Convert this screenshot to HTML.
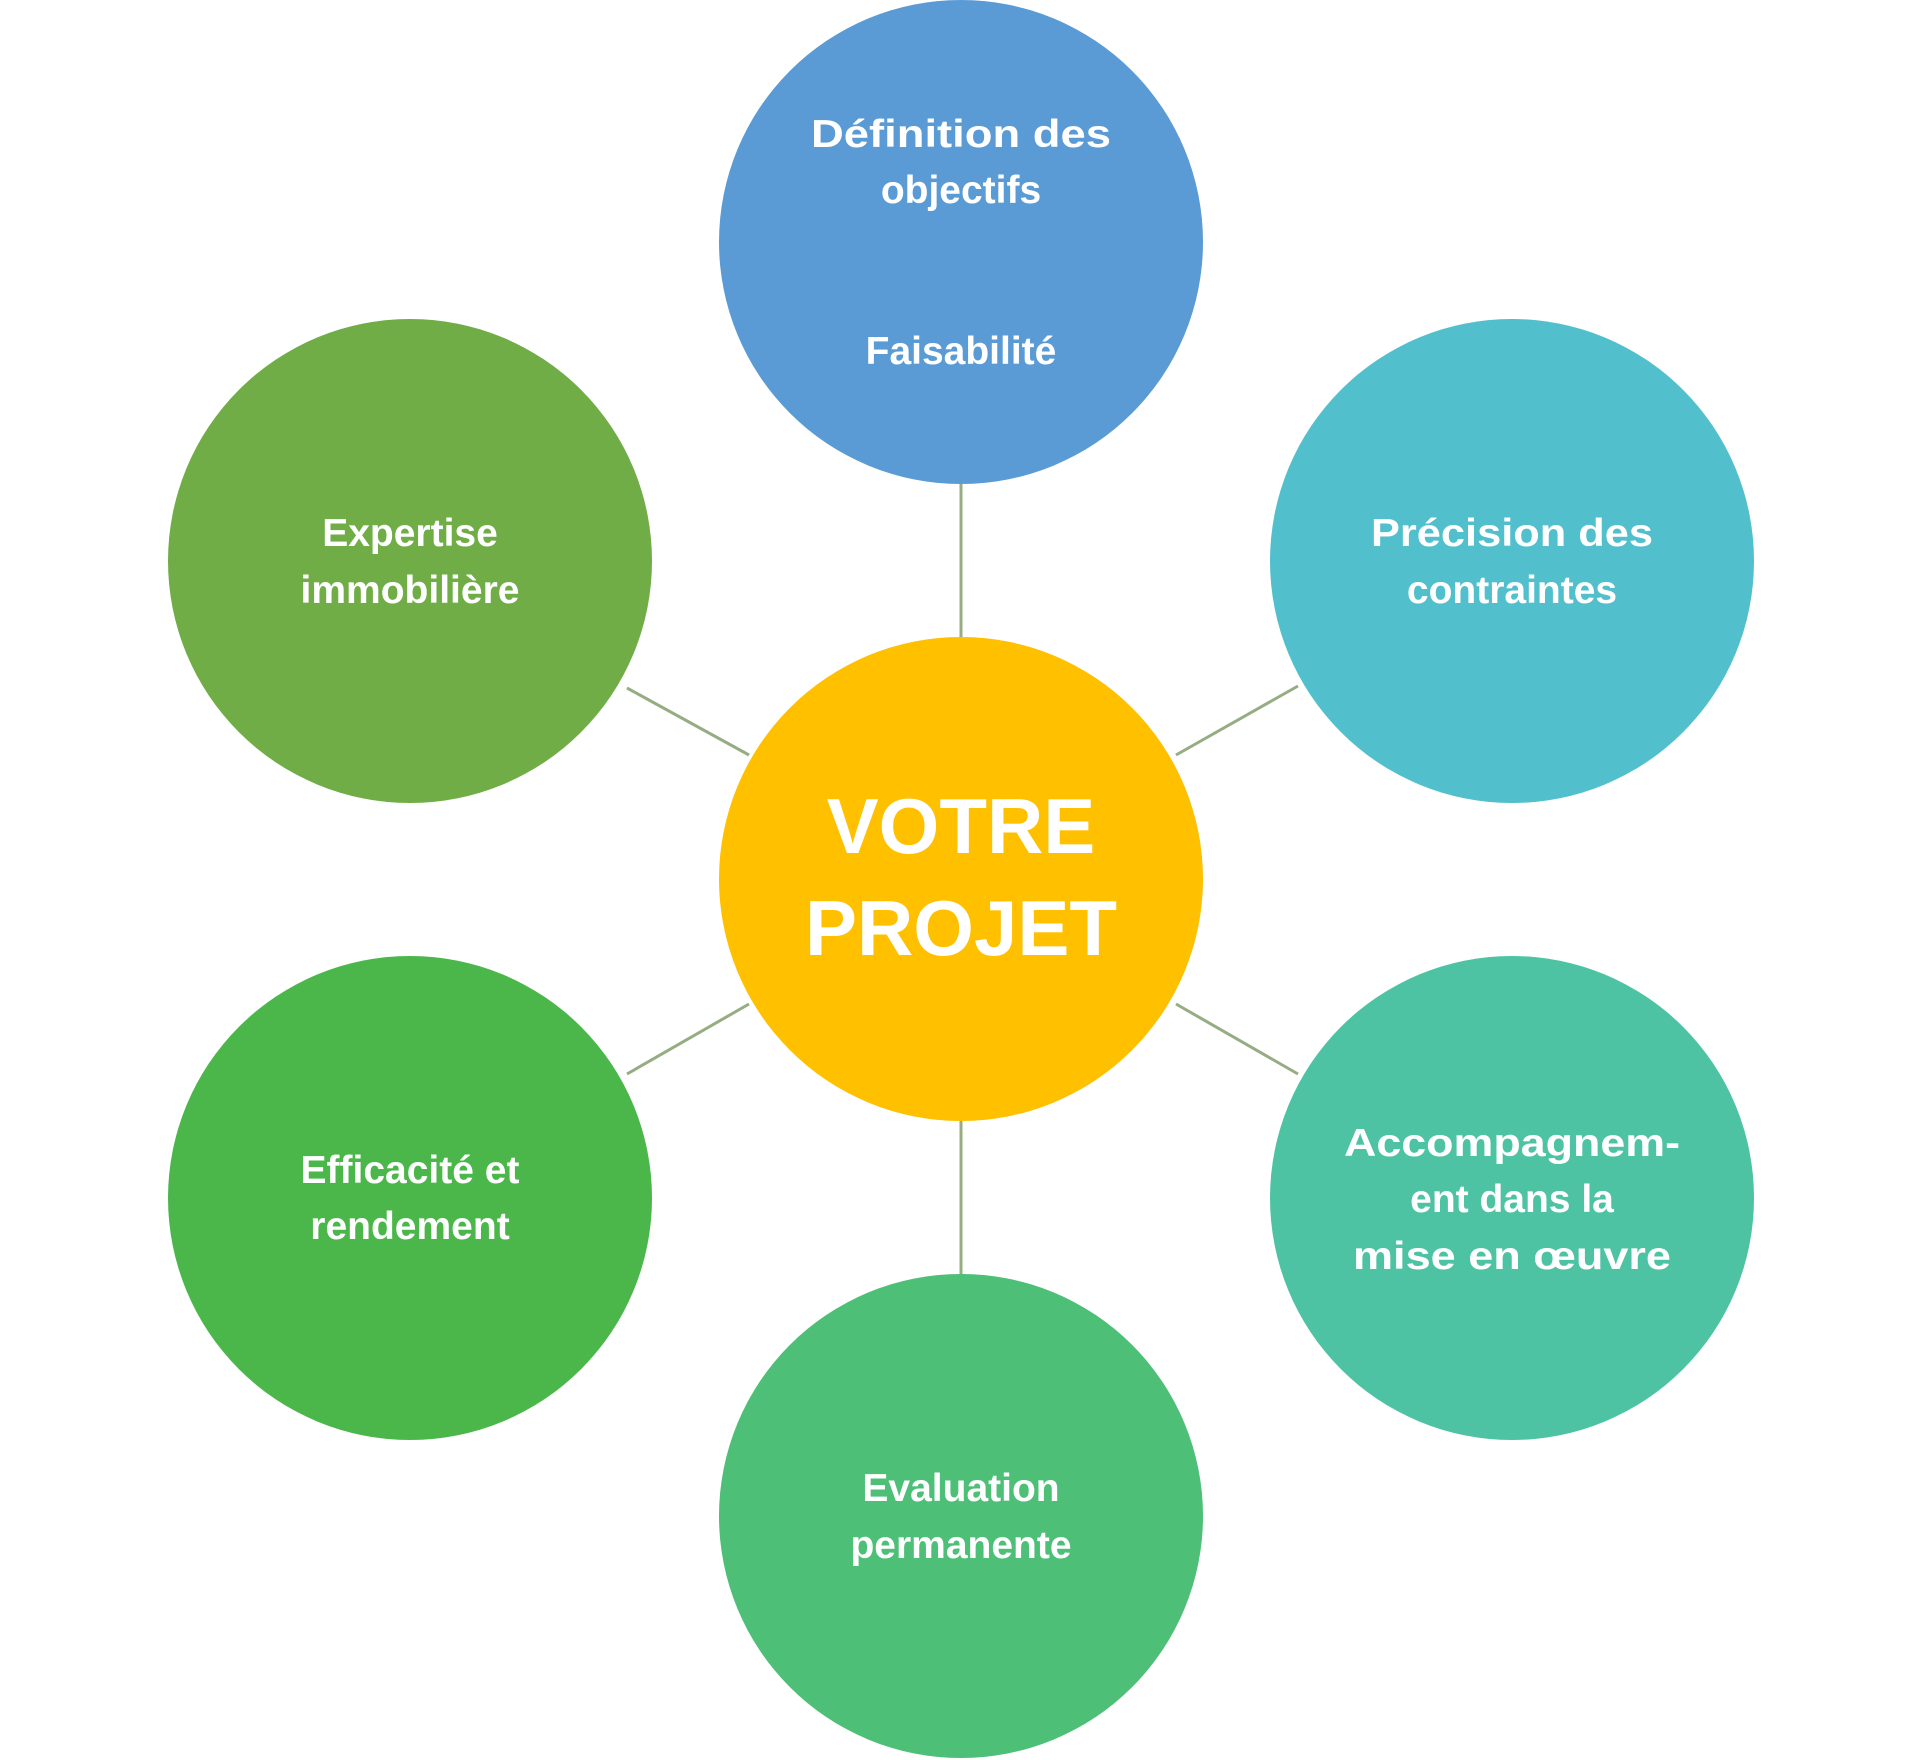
<!DOCTYPE html>
<html><head><meta charset="utf-8"><style>
html,body{margin:0;padding:0;background:#fff;}
svg{display:block;}
text{font-family:"Liberation Sans",sans-serif;font-weight:bold;fill:#fff;text-anchor:middle;}
.s{font-size:39px;}
.b{font-size:78px;}
</style></head><body>
<svg width="1920" height="1760" viewBox="0 0 1920 1760">
<g stroke="#96ad84" stroke-width="3">
<line x1="961" y1="480" x2="961" y2="640"/>
<line x1="961" y1="1118" x2="961" y2="1278"/>
<line x1="627" y1="688" x2="749" y2="755"/>
<line x1="1176" y1="755" x2="1298" y2="686"/>
<line x1="627" y1="1074" x2="749" y2="1004"/>
<line x1="1176" y1="1004" x2="1298" y2="1074"/>
</g>
<circle cx="961" cy="242" r="242" fill="#5b9bd5"/>
<circle cx="1512" cy="561" r="242" fill="#52bfcd"/>
<circle cx="410" cy="561" r="242" fill="#70ad47"/>
<circle cx="410" cy="1198" r="242" fill="#4bb74a"/>
<circle cx="1512" cy="1198" r="242" fill="#4ec3a4"/>
<circle cx="961" cy="1516" r="242" fill="#4dbf77"/>
<circle cx="961" cy="879" r="242" fill="#ffc000"/>
<text class="s" x="961" y="147" textLength="300" lengthAdjust="spacingAndGlyphs">Définition des</text>
<text class="s" x="961" y="203">objectifs</text>
<text class="s" x="961" y="364">Faisabilité</text>
<text class="s" x="410" y="546">Expertise</text>
<text class="s" x="410" y="603">immobilière</text>
<text class="s" x="1512" y="546" textLength="282" lengthAdjust="spacingAndGlyphs">Précision des</text>
<text class="s" x="1512" y="603">contraintes</text>
<text class="s" x="410" y="1183">Efficacité et</text>
<text class="s" x="410" y="1239">rendement</text>
<text class="s" x="1512" y="1156" textLength="336" lengthAdjust="spacingAndGlyphs">Accompagnem-</text>
<text class="s" x="1512" y="1212">ent dans la</text>
<text class="s" x="1512" y="1269" textLength="318" lengthAdjust="spacingAndGlyphs">mise en œuvre</text>
<text class="s" x="961" y="1501">Evaluation</text>
<text class="s" x="961" y="1558">permanente</text>
<text class="b" x="961" y="853">VOTRE</text>
<text class="b" x="961" y="955">PROJET</text>
</svg>
</body></html>
